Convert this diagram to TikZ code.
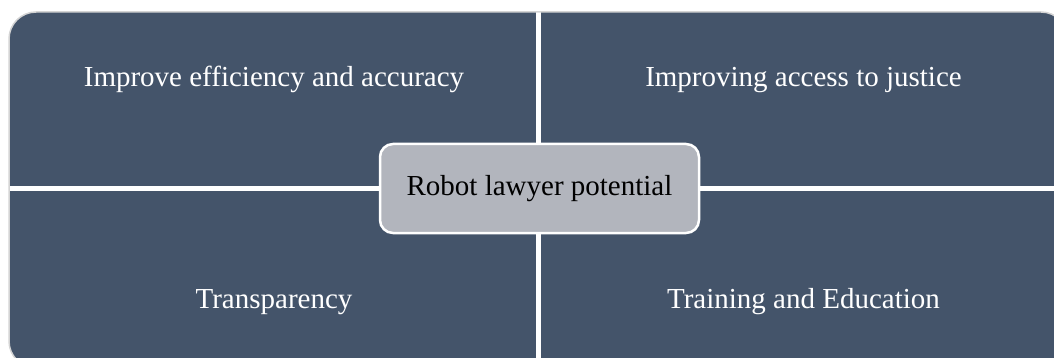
\documentclass[tikz,border=0pt]{standalone}
\usepackage{fontspec}
\setmainfont{Liberation Serif}
\definecolor{slate}{HTML}{44546A}
\definecolor{hub}{HTML}{B2B5BD}
\definecolor{rim}{HTML}{D4D4D4}
\begin{document}
\begin{tikzpicture}[x=1pt,y=-1pt,
  quad/.style={rectangle, fill=slate, draw=white, line width=2.5pt, inner sep=0pt,
    minimum width=560pt, minimum height=200pt},
  lbl/.style={text=white, font=\fontsize{29}{34}\selectfont, anchor=base, inner sep=0pt},
  hubbox/.style={rectangle, rounded corners=13pt, fill=hub, draw=white, line width=2.5pt,
    minimum width=319pt, minimum height=89pt, inner sep=0pt,
    font=\fontsize{29}{34}\selectfont, text=black}]
\useasboundingbox (0,0) rectangle (1054,358);
\coordinate (c) at (538.5,189);
% four quadrants, trimmed by the rounded outer frame
\begin{scope}
  \clip[rounded corners=27pt] (9,12) rectangle (1068,368);
  \node[quad, anchor=south east] (nw) at (c) {};
  \node[quad, anchor=south west] (ne) at (c) {};
  \node[quad, anchor=north east] (sw) at (c) {};
  \node[quad, anchor=north west] (se) at (c) {};
\end{scope}
\draw[rim, line width=1.5pt, rounded corners=27pt] (9,12) rectangle (1068,368);
% quadrant labels
\node[lbl] (t1) at (274,87) {Improve efficiency and accuracy};
\node[lbl] (t2) at (803.5,87) {Improving access to justice};
\node[lbl] (t3) at (274,308) {Transparency};
\node[lbl] (t4) at (803.5,308) {Training and Education};
% central hub
\node[hubbox] (hubnode) at (539.5,188.5) {Robot lawyer potential};
\end{tikzpicture}
\end{document}
